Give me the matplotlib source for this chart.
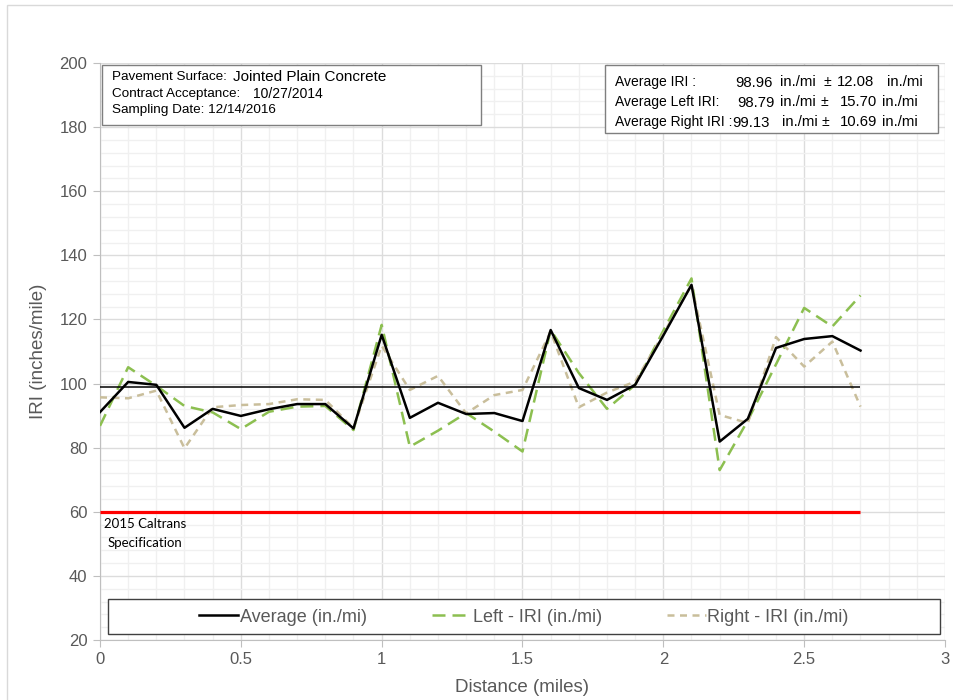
import matplotlib
matplotlib.use("Agg")
import matplotlib.pyplot as plt
from matplotlib.patches import Rectangle
from matplotlib.ticker import MultipleLocator, FuncFormatter

plt.rcParams['font.family'] = ['Liberation Sans', 'DejaVu Sans']

# datos
distancia = [0.0, 0.1, 0.2, 0.3, 0.4, 0.5, 0.6, 0.7, 0.8, 0.9,
             1.0, 1.1, 1.2, 1.3, 1.4, 1.5, 1.6, 1.7, 1.8, 1.9,
             2.0, 2.1, 2.2, 2.3, 2.4, 2.5, 2.6, 2.7]
promedio = [91.1, 100.5, 99.6, 86.2, 92.1, 89.9, 92.0, 93.6, 93.6, 86.0,
            115.2, 89.3, 94.0, 90.5, 90.8, 88.3, 116.7, 98.6, 94.9, 99.6,
            115.0, 130.8, 81.9, 89.0, 111.1, 113.9, 114.8, 110.3]
izquierda = [86.8, 105.1, 99.3, 93.0, 91.0, 85.8, 91.2, 92.8, 93.0, 85.5,
             118.3, 80.3, 85.3, 90.8, 85.0, 78.8, 116.7, 103.3, 92.1, 99.6,
             116.5, 132.8, 73.0, 88.5, 106.0, 123.6, 117.8, 127.5]
derecha = [95.7, 95.4, 97.8, 79.8, 92.6, 93.3, 93.6, 95.1, 94.9, 86.1,
           111.8, 98.0, 102.4, 90.7, 96.4, 98.0, 116.2, 92.6, 97.2, 100.6,
           115.5, 130.8, 90.2, 87.7, 114.5, 105.3, 113.1, 92.8]
iri_medio = 98.96
especificacion = 60

W, H = 954, 700
fig = plt.figure(figsize=(W / 100, H / 100), dpi=100)
ax = fig.add_axes([100 / W, 1 - 640 / H, 845 / W, 577 / H])


def fx(px):
    return px / W


def fy(py):
    return 1 - py / H


# borde de la figura
fig.patches.append(Rectangle((fx(7), fy(1000)), 2, fy(5) - fy(1000), transform=fig.transFigure,
                             facecolor='none', edgecolor='#d9d9d9', lw=1.0, zorder=0))

gris = '#595959'
verde = '#8cbf50'
beige = '#c9be9b'

ax.plot(distancia, izquierda, color=verde, lw=1.8, dashes=(5.2, 2.8), label='Left - IRI (in./mi)', zorder=3)
ax.plot(distancia, derecha, color=beige, lw=1.8, dashes=(2.8, 2.2), label='Right - IRI (in./mi)', zorder=3)
ax.plot(distancia, promedio, color='black', lw=1.8, label='Average (in./mi)', zorder=4)
ax.hlines(iri_medio, distancia[0], distancia[-1], color='black', lw=1.1, zorder=3)
ax.hlines(especificacion, distancia[0], distancia[-1], color='#ff0000', lw=2.3, zorder=3)

ax.set_xlim(0, 3)
ax.set_ylim(20, 200)
ax.xaxis.set_major_locator(MultipleLocator(0.5))
ax.xaxis.set_minor_locator(MultipleLocator(0.1))
ax.yaxis.set_major_locator(MultipleLocator(20))
ax.yaxis.set_minor_locator(MultipleLocator(4))
ax.xaxis.set_major_formatter(FuncFormatter(lambda v, p: f"{v:g}"))
ax.grid(which='major', color='#dcdcdc', lw=1.0, zorder=0)
ax.grid(which='minor', color='#f0f0f0', lw=1.0, zorder=0)
ax.set_axisbelow(True)

for s in ['top', 'right']:
    ax.spines[s].set_visible(False)
for s in ['left', 'bottom']:
    ax.spines[s].set_color('#bfbfbf')
ax.tick_params(which='major', direction='out', length=5, color='#bfbfbf', labelcolor=gris, labelsize=12, pad=4)
ax.tick_params(which='minor', length=0)

ax.set_xlabel('Distance (miles)', fontsize=13.5, color=gris, labelpad=8)
ax.set_ylabel('IRI (inches/mile)', fontsize=13.5, color=gris, labelpad=9)

# texto de la especificacion
fig.text(fx(104), fy(524), '2015 Caltrans', fontsize=9.5, family='Lato', va='center', ha='left')
fig.text(fx(108), fy(543), 'Specification', fontsize=9.5, family='Lato', va='center', ha='left')

# cuadro de datos del pavimento
fig.patches.append(Rectangle((fx(102), fy(125)), fx(481) - fx(102), fy(65) - fy(125), transform=fig.transFigure,
                             facecolor='white', edgecolor='#7f7f7f', lw=1.0, zorder=5))
fig.text(fx(112), fy(77), 'Pavement Surface:', fontsize=9.7, va='center', zorder=6)
fig.text(fx(233), fy(77), 'Jointed Plain Concrete', fontsize=11, va='center', zorder=6)
fig.text(fx(112), fy(94), 'Contract Acceptance:', fontsize=9.7, va='center', zorder=6)
fig.text(fx(253), fy(94), '10/27/2014', fontsize=10, va='center', zorder=6)
fig.text(fx(112), fy(110), 'Sampling Date: 12/14/2016', fontsize=9.7, va='center', zorder=6)

# cuadro de promedios
fig.patches.append(Rectangle((fx(605), fy(133)), fx(938) - fx(605), fy(65) - fy(133), transform=fig.transFigure,
                             facecolor='white', edgecolor='#7f7f7f', lw=1.0, zorder=5))
filas = [
    (82, 'Average IRI :', (735, '98.96'), 780, 824, (837, '12.08'), 887),
    (102, 'Average Left IRI:', (737, '98.79'), 780, 821, (840, '15.70'), 882),
    (122, 'Average Right IRI :', (732, '99.13'), 782, 822, (840, '10.69'), 882),
]
for y, etiqueta, (xv, val), xu1, xpm, (xs, sd), xu2 in filas:
    fig.text(fx(615), fy(y), etiqueta, fontsize=10, va='center', zorder=6)
    fig.text(fx(xv), fy(y + 1), val, fontsize=10.7, va='center', zorder=6)
    fig.text(fx(xu1), fy(y), 'in./mi', fontsize=10.7, va='center', zorder=6)
    fig.text(fx(xpm), fy(y), '±', fontsize=10, va='center', zorder=6)
    fig.text(fx(xs), fy(y), sd, fontsize=10.7, va='center', zorder=6)
    fig.text(fx(xu2), fy(y), 'in./mi', fontsize=10.7, va='center', zorder=6)

# leyenda
fig.patches.append(Rectangle((fx(108), fy(634)), fx(940) - fx(108), fy(599) - fy(634), transform=fig.transFigure,
                             facecolor='white', edgecolor='#404040', lw=1.0, zorder=5))
handles, labels = ax.get_legend_handles_labels()
orden = [2, 0, 1]
leg = fig.legend([handles[i] for i in orden], [labels[i] for i in orden], loc='center',
                 bbox_to_anchor=(fx(524), fy(617)), ncol=3, frameon=False, fontsize=13,
                 handlelength=2.15, handletextpad=0.1, columnspacing=3.6, labelcolor=gris)
leg.set_zorder(7)

fig.savefig('out.png', dpi=100)
